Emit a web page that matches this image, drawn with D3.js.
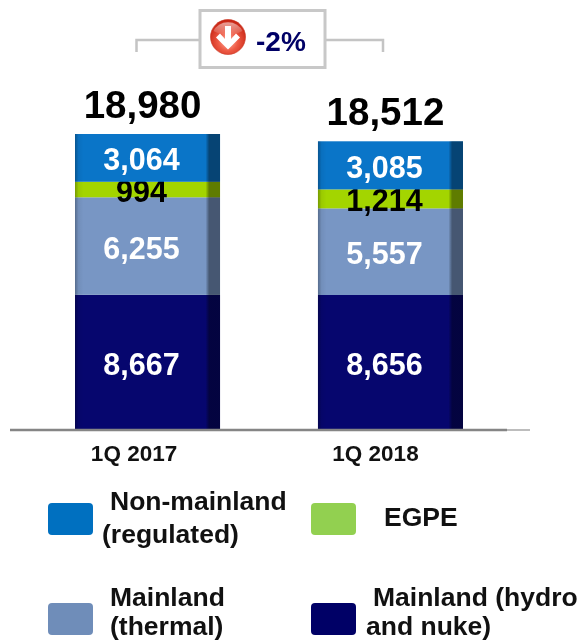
<!DOCTYPE html>
<html><head><meta charset="utf-8">
<script src="https://cdn.jsdelivr.net/npm/d3@7"></script>
<style>html,body{margin:0;padding:0;background:#fff}svg{display:block;filter:blur(0.4px)}text{font-family:"Liberation Sans",Arial,sans-serif;font-weight:bold}</style>
</head><body><div id="c"></div>
<script>
const categories = ["1Q 2017", "1Q 2018"];
const seriesKeys = ["Mainland (hydro and nuke)", "Mainland (thermal)", "EGPE", "Non-mainland (regulated)"];
const hydro = [8667, 8656];
const thermal = [6255, 5557];
const egpe = [994, 1214];
const nonMainland = [3064, 3085];
const totals = [18980, 18512];
const changeLabel = "-2%";
const barColors = ["#06066e", "#7896c4", "#a3d500", "#0a75c8"];
const legendColors = ["#0070c0", "#92d050", "#6f8db9", "#000066"];
const legendLines = [["Non-mainland", "(regulated)"], ["EGPE"], ["Mainland", "(thermal)"], ["Mainland (hydro", "and nuke)"]];

const W = 580, H = 642;
const svg = d3.select("#c").append("svg").attr("width", W).attr("height", H);
const x = d3.scaleBand().domain(categories).range([75, 463]).paddingInner(0.403);
const y = d3.scaleLinear().domain([0, 18980]).range([430, 134]);
const fmt = d3.format(",");

const rows = categories.map((c, i) => ({cat: c, [seriesKeys[0]]: hydro[i], [seriesKeys[1]]: thermal[i], [seriesKeys[2]]: egpe[i], [seriesKeys[3]]: nonMainland[i]}));
const stacked = d3.stack().keys(seriesKeys)(rows);

const defs = svg.append("defs");
const shade = defs.append("linearGradient").attr("id", "shade");
[[0, "#000", .28], [.025, "#000", .05], [.06, "#000", 0], [.9, "#000", 0], [.925, "#000", .42], [1, "#000", .42]]
  .forEach(s => shade.append("stop").attr("offset", s[0]).attr("stop-color", s[1]).attr("stop-opacity", s[2]));
const glow = defs.append("radialGradient").attr("id", "ball").attr("cx", .5).attr("cy", .62).attr("r", .62);
[[0, "#ffb9a8"], [.45, "#ee5a45"], [1, "#c4200f"]].forEach(s => glow.append("stop").attr("offset", s[0]).attr("stop-color", s[1]));
const gloss = defs.append("linearGradient").attr("id", "gloss").attr("x2", 0).attr("y2", 1);
gloss.append("stop").attr("offset", 0).attr("stop-color", "#fff").attr("stop-opacity", .55);
gloss.append("stop").attr("offset", 1).attr("stop-color", "#fff").attr("stop-opacity", .05);

// bars
const layer = svg.selectAll("g.layer").data(stacked).join("g").attr("class", "layer").attr("fill", (d, i) => barColors[i]);
layer.selectAll("rect").data(d => d).join("rect")
  .attr("x", d => x(d.data.cat)).attr("width", x.bandwidth())
  .attr("y", d => y(d[1])).attr("height", d => y(d[0]) - y(d[1]));
svg.selectAll("rect.shade").data(categories).join("rect").attr("class", "shade")
  .attr("x", d => x(d)).attr("width", x.bandwidth())
  .attr("y", (d, i) => y(totals[i])).attr("height", (d, i) => y(0) - y(totals[i]))
  .attr("fill", "url(#shade)");

// axis
const axis = d3.axisBottom(x).tickSize(0).tickPadding(15);
const gx = svg.append("g").attr("transform", "translate(0,430)").call(axis);
gx.select(".domain").remove();
gx.selectAll("text").attr("font-size", 22.5).attr("fill", "#111").attr("dx", (d, i) => i ? -15 : -13.5);
svg.append("line").attr("x1", 10).attr("x2", 530).attr("y1", 430).attr("y2", 430).attr("stroke", "#bdbdbd").attr("stroke-width", 2);
svg.append("line").attr("x1", 10).attr("x2", 507).attr("y1", 430).attr("y2", 430).attr("stroke", "#858585").attr("stroke-width", 2.5);

// segment labels
layer.each(function(s, si) {
  d3.select(this).selectAll("text").data(s).join("text")
    .attr("x", d => x(d.data.cat) + x.bandwidth() / 2 - 6)
    .attr("y", d => (y(d[0]) + y(d[1])) / 2 + 12.5)
    .attr("text-anchor", "middle").attr("font-size", 30.5)
    .attr("fill", si === 2 ? "#000" : "#fff")
    .text(d => fmt(d[1] - d[0]));
});

// totals
svg.selectAll("text.total").data(categories).join("text").attr("class", "total")
  .attr("x", d => x(d) + x.bandwidth() / 2 - 5)
  .attr("y", (d, i) => y(totals[i]) - 16)
  .attr("text-anchor", "middle").attr("font-size", 38.5).attr("fill", "#000")
  .text((d, i) => fmt(totals[i]));

// change bracket
svg.append("path").attr("d", "M136.5,52V40H200M325,40H383V52").attr("fill", "none").attr("stroke", "#c4c4c4").attr("stroke-width", 2.5);
svg.append("rect").attr("x", 200).attr("y", 10.5).attr("width", 125).attr("height", 57).attr("fill", "#fff").attr("stroke", "#c8c8c8").attr("stroke-width", 3);
const ic = svg.append("g").attr("transform", "translate(228,37)");
ic.append("circle").attr("r", 17.5).attr("fill", "url(#ball)").attr("stroke", "#c9301c").attr("stroke-width", .6);
ic.append("path").attr("d", "M-14.5,-6 A15.5,13.5 0 0 1 14.5,-6 Q0,2 -14.5,-6Z").attr("fill", "url(#gloss)");
ic.append("path").attr("d", "M-3,-11H3V2L8,-3.5L12,0.5L0,12.5L-12,0.5L-8,-3.5L-3,2Z").attr("fill", "#fff");
svg.append("text").attr("x", 256).attr("y", 51).attr("font-size", 28).attr("fill", "#000066").text(changeLabel);

// legend
const swatchX = [48, 311, 48, 311], swatchY = [503, 503, 603, 603];
const textPos = [[[110, 510], [102, 543]], [[384, 526]], [[110, 606], [110, 635]], [[373, 606], [366, 635]]];
const lg = svg.selectAll("g.lg").data(legendLines).join("g").attr("class", "lg");
lg.append("rect").attr("x", (d, i) => swatchX[i]).attr("y", (d, i) => swatchY[i]).attr("width", 45).attr("height", 32).attr("rx", 4).attr("fill", (d, i) => legendColors[i]);
lg.each(function(lines, i) {
  d3.select(this).selectAll("text").data(lines).join("text")
    .attr("x", (d, j) => textPos[i][j][0]).attr("y", (d, j) => textPos[i][j][1])
    .attr("font-size", 26.5).attr("fill", "#111").text(d => d);
});
</script></body></html>
